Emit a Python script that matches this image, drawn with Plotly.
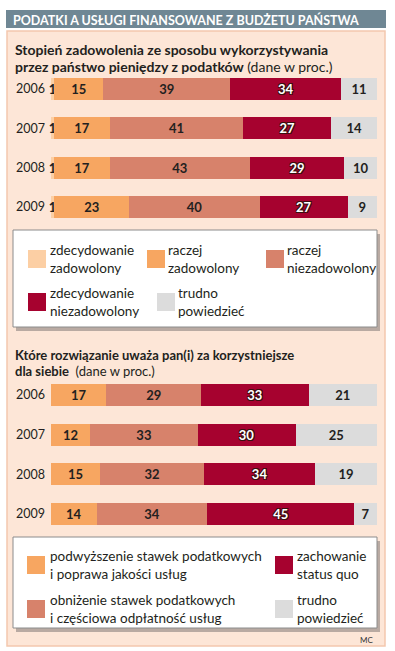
import plotly.graph_objects as go

W, H = 395, 651

years = ["2006", "2007", "2008", "2009"]

# Chart 1: satisfaction
c1_names = ["zdecydowanie zadowolony", "raczej zadowolony", "raczej niezadowolony",
            "zdecydowanie niezadowolony", "trudno powiedzieć"]
c1_legend = ["zdecydowanie<br>zadowolony", "raczej<br>zadowolony", "raczej<br>niezadowolony",
             "zdecydowanie<br>niezadowolony", "trudno<br>powiedzieć"]
c1_zdec_zad = [1, 1, 1, 1]
c1_racz_zad = [15, 17, 17, 23]
c1_racz_niezad = [39, 41, 43, 40]
c1_zdec_niezad = [34, 27, 29, 27]
c1_trudno = [11, 14, 10, 9]
c1_colors = ["#fccfa4", "#f7a661", "#d7826b", "#a6022f", "#dcdcdc"]

# Chart 2: preferred solution
c2_names = ["podwyższenie stawek", "obniżenie stawek", "zachowanie status quo", "trudno powiedzieć"]
c2_legend = ["podwyższenie stawek podatkowych<br>i poprawa jakości usług",
             "obniżenie stawek podatkowych<br>i częściowa odpłatność usług",
             "zachowanie<br>status quo", "trudno<br>powiedzieć"]
c2_podwyzszenie = [17, 12, 15, 14]
c2_obnizenie = [29, 33, 32, 34]
c2_status_quo = [33, 30, 34, 45]
c2_trudno = [21, 25, 19, 7]
c2_colors = ["#f7a661", "#d7826b", "#a6022f", "#dcdcdc"]

FONT = "Lato, Liberation Sans Narrow, DejaVu Sans Condensed, sans-serif"
DARK = "#231f20"
OUTLINE = "-1px -1px 0 #3a1010, 1px -1px 0 #3a1010, -1px 1px 0 #3a1010, 1px 1px 0 #3a1010"


def px(x):
    return x / W


def py(y):
    return 1 - y / H


fig = go.Figure()


def add_bars(series, names, colors, xa, ya):
    for name, vals, col in zip(names, series, colors):
        white = col == "#a6022f"
        fig.add_trace(go.Bar(
            y=years, x=vals, orientation="h", name=name, width=0.56,
            marker=dict(color=col, line=dict(width=0)),
            text=[str(v) for v in vals], textposition="inside", insidetextanchor="middle",
            constraintext="none", textangle=0, cliponaxis=False,
            textfont=dict(family=FONT, size=13, weight="bold",
                          color="white" if white else DARK,
                          shadow=OUTLINE if white else "none"),
            xaxis=xa, yaxis=ya, showlegend=False, hoverinfo="skip",
        ))


add_bars([c1_zdec_zad, c1_racz_zad, c1_racz_niezad, c1_zdec_niezad, c1_trudno],
         c1_names, c1_colors, "x", "y")
add_bars([c2_podwyzszenie, c2_obnizenie, c2_status_quo, c2_trudno],
         c2_names, c2_colors, "x2", "y2")

xdom = [px(51), px(377)]
axis_y = dict(type="category", categoryorder="array", categoryarray=years,
              autorange="reversed", showgrid=False, showline=False, zeroline=False,
              ticks="", ticklabelstandoff=5,
              tickfont=dict(family=FONT, size=12.5, color=DARK))
axis_x = dict(range=[0, 100], visible=False, fixedrange=True)

fig.update_layout(
    width=W, height=H, margin=dict(l=0, r=0, t=0, b=0),
    paper_bgcolor="white", plot_bgcolor="rgba(0,0,0,0)",
    barmode="stack",
    font=dict(family=FONT, color=DARK),
    xaxis=dict(domain=xdom, anchor="y", **axis_x),
    yaxis=dict(domain=[py(226.7), py(69.3)], anchor="x", **axis_y),
    xaxis2=dict(domain=xdom, anchor="y2", **axis_x),
    yaxis2=dict(domain=[py(533.8), py(375.2)], anchor="x2", **axis_y),
)

shapes = []
# header bar
shapes.append(dict(type="rect", xref="paper", yref="paper", layer="below",
                   x0=px(6), x1=px(386), y0=py(28), y1=py(10),
                   fillcolor="#6f8794", line=dict(width=0)))
# peach panel
shapes.append(dict(type="rect", xref="paper", yref="paper", layer="below",
                   x0=px(7), x1=px(385), y0=py(646), y1=py(31),
                   fillcolor="#fde6d7", line=dict(color="#f4c8ae", width=1.5)))
# legend boxes with shadow
for (y0, y1) in [(230, 327), (537, 628)]:
    shapes.append(dict(type="rect", xref="paper", yref="paper", layer="below",
                       x0=px(16), x1=px(380), y0=py(y1 + 4), y1=py(y0 + 4),
                       fillcolor="#b9aaa2", line=dict(width=0)))
    shapes.append(dict(type="rect", xref="paper", yref="paper", layer="below",
                       x0=px(13), x1=px(377), y0=py(y1), y1=py(y0),
                       fillcolor="white", line=dict(color="#8c8c8c", width=1)))

annotations = []
annotations.append(dict(xref="paper", yref="paper", x=px(11), y=py(19.5),
                        xanchor="left", yanchor="middle", showarrow=False,
                        text="<b>PODATKI A USŁUGI FINANSOWANE Z BUDŻETU PAŃSTWA</b>",
                        font=dict(family=FONT, size=12.5, color="white")))
for (y, txt, sz) in [(50, "<b>Stopień zadowolenia ze sposobu wykorzystywania</b>", 14),
                     (66, "<b>przez państwo pieniędzy z podatków</b> (dane w proc.)", 14),
                     (355, "<b>Które rozwiązanie uważa pan(i) za korzystniejsze</b>", 13),
                     (371, "<b>dla siebie</b>  (dane w proc.)", 13)]:
    annotations.append(dict(xref="paper", yref="paper", x=px(13), y=py(y),
                            xanchor="left", yanchor="middle", showarrow=False,
                            text=txt, font=dict(family=FONT, size=sz, color=DARK)))


def legend_item(sx, sy, tx, color, label, size=18):
    shapes.append(dict(type="rect", xref="paper", yref="paper",
                       x0=px(sx), x1=px(sx + size), y0=py(sy + size / 2), y1=py(sy - size / 2),
                       fillcolor=color, line=dict(width=0)))
    annotations.append(dict(xref="paper", yref="paper", x=px(tx), y=py(sy),
                            xanchor="left", yanchor="middle", align="left", showarrow=False,
                            text=label, font=dict(family=FONT, size=13.5, color=DARK)))


l1_pos = [(28, 259, 48), (147, 259, 166), (266, 259, 285), (28, 302, 48), (157, 302, 176)]
for (sx, sy, tx), col, lab in zip(l1_pos, c1_colors, c1_legend):
    legend_item(sx, sy, tx, col, lab)

l2_pos = [(27, 565, 48), (27, 609, 48), (275, 565, 295), (275, 609, 295)]
for (sx, sy, tx), col, lab in zip(l2_pos, c2_colors, c2_legend):
    legend_item(sx, sy, tx, col, lab)

annotations.append(dict(xref="paper", yref="paper", x=px(375), y=py(640),
                        xanchor="right", yanchor="middle", showarrow=False,
                        text="MC", font=dict(family=FONT, size=8, color="#333")))

fig.update_layout(shapes=shapes, annotations=annotations)
fig.write_html("out.html", config={"displayModeBar": False},
               post_script="document.body.style.margin='0';")
